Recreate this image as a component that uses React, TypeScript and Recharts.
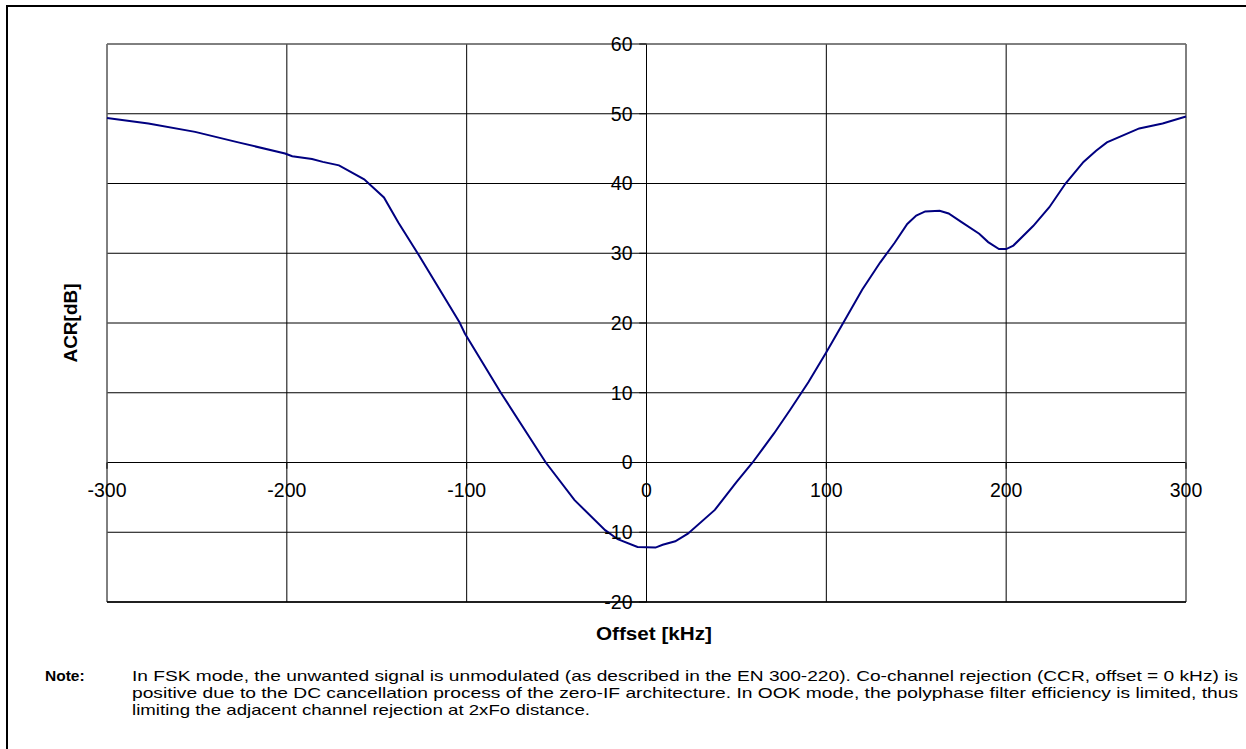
import React from "react";
import {
  LineChart,
  Line,
  XAxis,
  YAxis,
  CartesianGrid,
  ReferenceLine,
  ReferenceDot,
} from "recharts";

// Offset [kHz]
const offsets = [
  -300, -277, -251, -227, -201, -197, -186, -180, -171, -157, -146, -138, -127,
  -104, -101, -81, -56, -40, -23, -16, -5, 5, 9, 16, 23, 38, 50, 59, 71, 80,
  90, 100, 110, 120, 130, 138, 145, 150, 155, 163, 168, 175, 185, 190, 196, 200,
  204, 215, 224, 233, 243, 250, 256, 274, 287, 300,
];
// ACR [dB]
const acr = [
  49.4, 48.6, 47.4, 45.9, 44.3, 43.9, 43.5, 43.1, 42.6, 40.6, 38.0, 34.4, 29.9,
  20.1, 18.5, 10.0, 0.0, -5.4, -9.7, -11.0, -12.1, -12.2, -11.8, -11.3, -10.2,
  -6.8, -2.8, 0.0, 4.2, 7.6, 11.5, 15.8, 20.3, 24.8, 28.7, 31.5, 34.2, 35.4,
  36.0, 36.1, 35.7, 34.5, 32.8, 31.6, 30.6, 30.6, 31.1, 33.9, 36.6, 40.0, 43.1,
  44.7, 45.9, 47.9, 48.6, 49.6,
];

const xTicks = [-300, -200, -100, 0, 100, 200, 300];
const yTicks = [-20, -10, 0, 10, 20, 30, 40, 50, 60];

const xTitle = "Offset [kHz]";
const yTitle = "ACR[dB]";
const noteLabel = "Note:";
const noteLines = [
  "In FSK mode, the unwanted signal is unmodulated (as described in the EN 300-220). Co-channel rejection (CCR, offset = 0 kHz) is",
  "positive due to the DC cancellation process of the zero-IF architecture. In OOK mode, the polyphase filter efficiency is limited, thus",
  "limiting the adjacent channel rejection at 2xFo distance.",
];
const noteWidths = [1106, 1106, 458];

const data = offsets.map((o, i) => ({ offset: o, acr: acr[i] }));

const FONT = "'Liberation Sans', Arial, Helvetica, sans-serif";
const W = 1246;
const H = 749;

export default function App() {
  return (
    <div
      style={{
        position: "absolute",
        left: 0,
        top: 0,
        width: W,
        height: H,
        overflow: "hidden",
        background: "#fff",
        fontFamily: FONT,
      }}
    >
      <div
        style={{
          position: "absolute",
          left: 6,
          top: 5,
          width: W + 20,
          height: H + 20,
          borderLeft: "2px solid #000",
          borderTop: "2px solid #000",
        }}
      />
      <div style={{ position: "absolute", left: 0, top: 0 }}>
        <LineChart
          width={W}
          height={H}
          data={data}
          margin={{ top: 44, right: 60, bottom: 147, left: 107 }}
        >
          <XAxis
            type="number"
            dataKey="offset"
            domain={[-300, 300]}
            ticks={xTicks}
            hide
          />
          <YAxis type="number" domain={[-20, 60]} ticks={yTicks} hide />
          <CartesianGrid stroke="#000" strokeWidth={1} />
          <ReferenceLine y={60} stroke="#808080" strokeWidth={1} />
          <ReferenceLine x={-300} stroke="#808080" strokeWidth={1} />
          <ReferenceLine x={300} stroke="#808080" strokeWidth={1} />
          <ReferenceLine y={-20} stroke="#000" strokeWidth={1.5} />
          {yTicks.map((v) => (
            <ReferenceLine
              key={"yt" + v}
              segment={[
                { x: -4, y: v },
                { x: 0, y: v },
              ]}
              stroke="#000"
              strokeWidth={1}
              ifOverflow="visible"
            />
          ))}
          {xTicks.map((v) => (
            <ReferenceLine
              key={"xt" + v}
              segment={[
                { x: v, y: 0 },
                { x: v, y: -0.9 },
              ]}
              stroke="#000"
              strokeWidth={1}
              ifOverflow="visible"
            />
          ))}
          <Line
            type="linear"
            dataKey="acr"
            stroke="#000080"
            strokeWidth={2}
            dot={false}
            isAnimationActive={false}
          />
          {yTicks.map((v) => (
            <ReferenceDot
              key={"yl" + v}
              x={0}
              y={v}
              r={0}
              fill="none"
              stroke="none"
              ifOverflow="visible"
              label={{
                value: String(v),
                position: "left",
                offset: 14,
                fill: "#000",
                fontSize: 19.5,
                fontFamily: FONT,
              }}
            />
          ))}
          {xTicks.map((v) => (
            <ReferenceDot
              key={"xl" + v}
              x={v}
              y={0}
              r={0}
              fill="none"
              stroke="none"
              ifOverflow="visible"
              label={{
                value: String(v),
                position: "bottom",
                offset: 21,
                fill: "#000",
                fontSize: 19.5,
                fontFamily: FONT,
              }}
            />
          ))}
        </LineChart>
      </div>
      <svg
        width={W}
        height={H}
        style={{ position: "absolute", left: 0, top: 0, pointerEvents: "none" }}
      >
        <text
          x={654}
          y={640}
          textAnchor="middle"
          fontFamily={FONT}
          fontWeight="bold"
          fontSize={19}
          textLength={116}
          lengthAdjust="spacingAndGlyphs"
          fill="#000"
        >
          {xTitle}
        </text>
        <text
          transform="translate(77,323) rotate(-90)"
          textAnchor="middle"
          fontFamily={FONT}
          fontWeight="bold"
          fontSize={19}
          fill="#000"
        >
          {yTitle}
        </text>
        <text
          x={45}
          y={681}
          fontFamily={FONT}
          fontWeight="bold"
          fontSize={15.5}
          fill="#000"
        >
          {noteLabel}
        </text>
        {noteLines.map((line, i) => (
          <text
            key={i}
            x={132}
            y={681 + i * 17}
            fontFamily={FONT}
            fontSize={15}
            textLength={noteWidths[i]}
            lengthAdjust="spacingAndGlyphs"
            fill="#000"
          >
            {line}
          </text>
        ))}
      </svg>
    </div>
  );
}
